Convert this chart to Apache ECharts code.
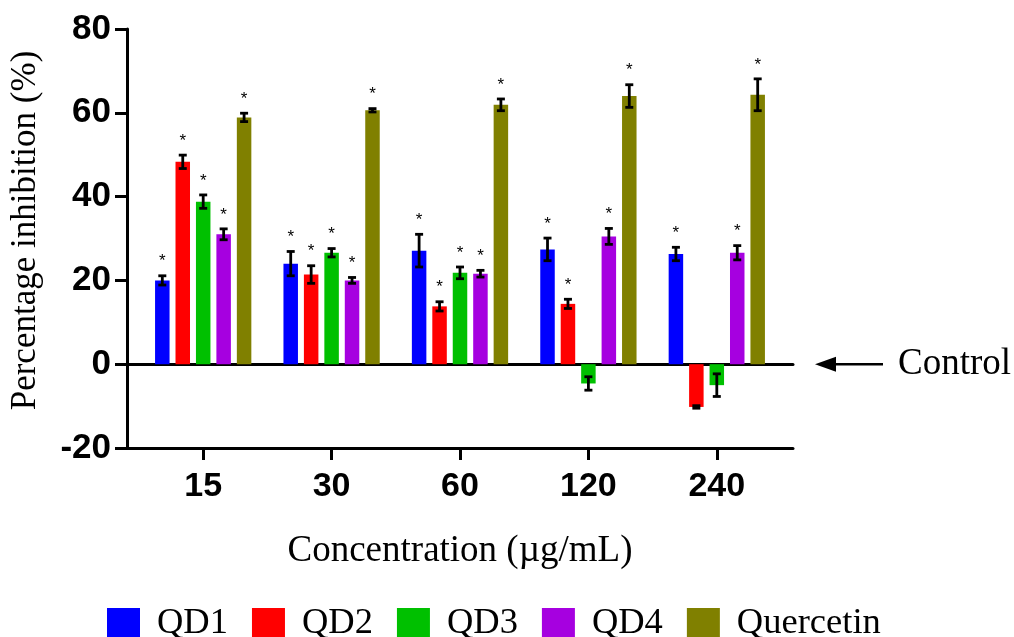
<!DOCTYPE html>
<html>
<head>
<meta charset="utf-8">
<script src="https://cdn.jsdelivr.net/npm/echarts@6/dist/echarts.min.js"></script>
<style>
  html, body { margin: 0; padding: 0; background: #fff; }
  #chart { width: 1014px; height: 637px; }
</style>
</head>
<body>
<div id="chart"></div>
<script>
// Concentrations (µg/mL)
const categories = ['15', '30', '60', '120', '240'];
const seriesNames = ['QD1', 'QD2', 'QD3', 'QD4', 'Quercetin'];
const colors = ['#0000FF', '#FF0000', '#00C000', '#A600E0', '#808000'];

// Mean percentage inhibition per compound
const qd1 = [20.0, 24.0, 27.1, 27.4, 26.3];
const qd2 = [48.3, 21.4, 13.8, 14.4, -10.2];
const qd3 = [38.8, 26.6, 21.8, -4.6, -5.0];
const qd4 = [31.0, 20.0, 21.6, 30.5, 26.6];
const quercetin = [58.9, 60.6, 61.9, 64.0, 64.3];

// Error (± SD)
const qd1Err = [1.1, 2.9, 3.9, 2.7, 1.6];
const qd2Err = [1.6, 2.1, 1.1, 1.1, 0.3];
const qd3Err = [1.6, 1.0, 1.4, 1.6, 2.7];
const qd4Err = [1.3, 0.7, 0.8, 1.9, 1.7];
const quercetinErr = [1.0, 0.4, 1.4, 2.7, 3.8];

// Significance markers (1 = *)
const qd1Sig = [1, 1, 1, 1, 1];
const qd2Sig = [1, 1, 1, 1, 0];
const qd3Sig = [1, 1, 1, 0, 0];
const qd4Sig = [1, 1, 1, 1, 1];
const quercetinSig = [1, 1, 1, 1, 1];

const yTicks = [-20, 0, 20, 40, 60, 80];

const means = [qd1, qd2, qd3, qd4, quercetin];
const errs = [qd1Err, qd2Err, qd3Err, qd4Err, quercetinErr];
const sigs = [qd1Sig, qd2Sig, qd3Sig, qd4Sig, quercetinSig];

const SERIF = "'Liberation Serif', 'Times New Roman', serif";
const SANS = "'Liberation Sans', Arial, sans-serif";
const BAR_W = 14.5;
const BAR_GAP = 0.41;

const chart = echarts.init(document.getElementById('chart'), null, { renderer: 'canvas' });

const barSeries = seriesNames.map((name, k) => ({
  name: name,
  type: 'bar',
  xAxisIndex: 2,
  yAxisIndex: 1,
  barWidth: BAR_W,
  barGap: (BAR_GAP * 100) + '%',
  itemStyle: { color: colors[k] },
  data: means[k],
  z: 2
}));

const errSeries = seriesNames.map((name, k) => ({
  type: 'custom',
  xAxisIndex: 2,
  yAxisIndex: 1,
  silent: true,
  z: 5,
  data: means[k].map((m, i) => [i, m - errs[k][i], m + errs[k][i], sigs[k][i]]),
  renderItem: function (params, api) {
    const i = api.value(0);
    const lo = api.coord([i, api.value(1)]);
    const hi = api.coord([i, api.value(2)]);
    const pitch = BAR_W * (1 + BAR_GAP);
    const x = lo[0] + (k - (seriesNames.length - 1) / 2) * pitch;
    const cap = 4;
    const style = { stroke: '#000', lineWidth: 2.8 };
    const children = [
      { type: 'line', shape: { x1: x, y1: lo[1], x2: x, y2: hi[1] }, style: style },
      { type: 'line', shape: { x1: x - cap, y1: lo[1], x2: x + cap, y2: lo[1] }, style: style },
      { type: 'line', shape: { x1: x - cap, y1: hi[1], x2: x + cap, y2: hi[1] }, style: style }
    ];
    if (api.value(3)) {
      children.push({
        type: 'text',
        style: {
          x: x, y: hi[1] - 14, text: '*', fill: '#000',
          font: '17px ' + SANS, align: 'center', verticalAlign: 'middle'
        }
      });
    }
    return { type: 'group', children: children };
  }
}));

const option = {
  backgroundColor: '#ffffff',
  animation: false,
  legend: {
    data: seriesNames,
    left: 102,
    top: 600,
    icon: 'rect',
    itemWidth: 33,
    itemHeight: 31,
    itemGap: 24,
    textStyle: { fontFamily: SERIF, fontSize: 36.5, color: '#000', padding: [0, 0, 0, 12] }
  },
  grid: [
    { left: 127, right: 221, top: 29, bottom: 189 },
    { left: 139, right: 233, top: 29, bottom: 189 }
  ],
  xAxis: [
    {
      gridIndex: 0, type: 'value', min: 0, max: 1, position: 'bottom',
      axisLine: { show: true, onZero: false, lineStyle: { color: '#000', width: 3 } },
      axisTick: { show: false }, axisLabel: { show: false }, splitLine: { show: false }
    },
    {
      gridIndex: 0, type: 'value', min: 0, max: 1, position: 'top',
      axisLine: { show: true, onZero: true, lineStyle: { color: '#000', width: 3 } },
      axisTick: { show: false }, axisLabel: { show: false }, splitLine: { show: false }
    },
    {
      gridIndex: 1, type: 'category', data: categories, position: 'bottom',
      axisLine: { show: false, onZero: false },
      axisTick: { show: true, alignWithLabel: true, length: 12, lineStyle: { color: '#000', width: 3 } },
      axisLabel: { color: '#000', fontFamily: SANS, fontWeight: 'bold', fontSize: 34, margin: 22 },
      name: 'Concentration (\u00b5g/mL)',
      nameLocation: 'middle',
      nameGap: 85,
      nameTextStyle: { fontFamily: SERIF, fontSize: 37, color: '#000' }
    }
  ],
  yAxis: [
    {
      gridIndex: 0, type: 'value', min: yTicks[0], max: yTicks[yTicks.length - 1], interval: 20,
      axisLine: { show: true, onZero: false, lineStyle: { color: '#000', width: 3 } },
      axisTick: { show: true, length: 12, lineStyle: { color: '#000', width: 3 } },
      axisLabel: { color: '#000', fontFamily: SANS, fontWeight: 'bold', fontSize: 35, margin: 16 },
      splitLine: { show: false },
      name: 'Percentage inhibition (%)',
      nameLocation: 'middle',
      nameGap: 84,
      nameTextStyle: { fontFamily: SERIF, fontSize: 35, color: '#000', padding: [0, 0, 0, 16] }
    },
    {
      gridIndex: 1, type: 'value', min: yTicks[0], max: yTicks[yTicks.length - 1], interval: 20,
      show: false
    }
  ],
  series: barSeries.concat(errSeries)
};

chart.setOption(option);

// "Control" pointer at the zero baseline, placed from the y-axis scale
const y0 = chart.convertToPixel({ yAxisIndex: 0 }, 0);
chart.setOption({
  graphic: [{
    type: 'group',
    children: [
      { type: 'polygon', shape: { points: [[815, y0], [836, y0 - 7.5], [836, y0 + 7.5]] }, style: { fill: '#000' } },
      { type: 'line', shape: { x1: 834, y1: y0, x2: 883, y2: y0 }, style: { stroke: '#000', lineWidth: 2.5 } },
      { type: 'text', style: { x: 898, y: y0, text: 'Control', font: '37px ' + SERIF, fill: '#000', verticalAlign: 'middle' } }
    ]
  }]
});
</script>
</body>
</html>
